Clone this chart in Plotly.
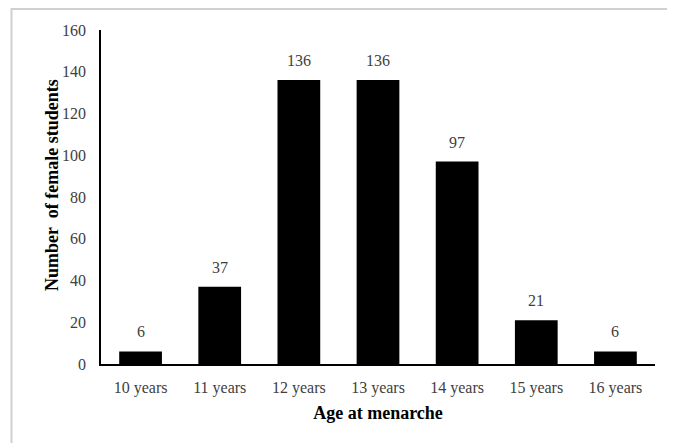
import plotly.graph_objects as go

categories = ["10 years", "11 years", "12 years", "13 years", "14 years", "15 years", "16 years"]
counts = [6, 37, 136, 136, 97, 21, 6]
y_ticks = [0, 20, 40, 60, 80, 100, 120, 140, 160]

FONT = "Liberation Serif"
TXT = "#404040"

# page body has an 8px margin; size the figure so it fits the 675x443 window
OFF = 8
W, H = 675 - OFF, 443 - OFF
L, T = 101 - OFF, 30 - OFF
R = W - L - 554
B = H - T - 334
pw, ph = W - L - R, H - T - B

fig = go.Figure()
fig.add_trace(go.Bar(x=categories, y=counts, marker=dict(color="black", line=dict(width=0)),
                     showlegend=False, hoverinfo="skip"))

for c, v in zip(categories, counts):
    fig.add_annotation(x=c, y=v, text=str(v), showarrow=False, yanchor="bottom", yshift=9,
                       font=dict(family=FONT, size=16, color=TXT))

def px_to_paper_x(px):
    return (px - OFF - L) / pw

def px_to_paper_y(py):
    return (H - B - (py - OFF)) / ph

fig.add_annotation(xref="paper", yref="paper", x=px_to_paper_x(52), y=px_to_paper_y(185),
                   xanchor="center", yanchor="middle", textangle=-90, showarrow=False,
                   text="<b>Number  of female students</b>",
                   font=dict(family=FONT, size=18, color="black"))

fig.add_shape(type="rect", xref="paper", yref="paper",
              x0=px_to_paper_x(11.5), x1=px_to_paper_x(671.5),
              y0=px_to_paper_y(470), y1=px_to_paper_y(9),
              line=dict(color="#d0d0d0", width=2), fillcolor="rgba(0,0,0,0)", layer="below")

fig.update_layout(
    width=W, height=H,
    margin=dict(l=L, r=R, t=T, b=B),
    paper_bgcolor="white", plot_bgcolor="white",
    bargap=0.46,
    font=dict(family=FONT, size=16, color=TXT),
    xaxis=dict(showline=True, linecolor="black", linewidth=1.5, ticks="", showgrid=False,
               tickfont=dict(family=FONT, size=16, color=TXT), ticklabelstandoff=8,
               title=dict(text="<b>Age at menarche</b>", font=dict(family=FONT, size=18, color="black"), standoff=10)),
    yaxis=dict(range=[0, 160], tickvals=y_ticks, showline=True, linecolor="black", linewidth=1.5,
               ticks="", showgrid=False, zeroline=False,
               tickfont=dict(family=FONT, size=16, color=TXT), ticklabelstandoff=10),
)

fig.write_html("out.html")
